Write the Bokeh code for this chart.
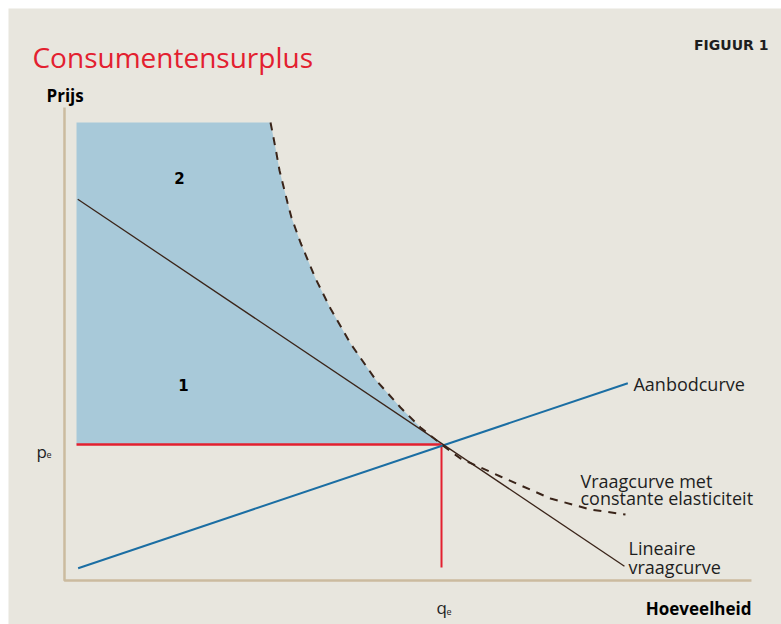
from bokeh.plotting import figure
from bokeh.models import Range1d
from bokeh.core.properties import value
from bokeh.embed import file_html
from bokeh.resources import INLINE

# ---- data (economic units: quantity q, price p) ----
QE = 5.488          # equilibrium quantity
PE = 2.875          # equilibrium price
FILL_LEFT_Q = 0.175 # left edge of the consumer surplus area

# constant-elasticity demand curve
ce_q = [2.999, 3.042, 3.086, 3.130, 3.188, 3.246, 3.304, 3.435, 3.654, 3.872,
        4.163, 4.527, 4.891, 5.182, 5.488, 5.764, 6.346, 7.074, 7.656, 8.166]
ce_p = [9.683, 9.366, 9.027, 8.668, 8.330, 7.992, 7.674, 7.146, 6.385, 5.751,
        5.011, 4.249, 3.658, 3.235, 2.875, 2.580, 2.199, 1.734, 1.501, 1.395]

# linear demand curve
lin_q = [0.193, 8.151]
lin_p = [8.061, 0.302]

# supply curve
sup_q = [0.199, 8.200]
sup_p = [0.260, 4.171]

QE_BOTTOM_P = 0.275

AXIS_MAX_Q = 10.0
AXIS_MAX_P = 10.0

BG = "#e8e6de"
RED = "#e3202f"
BLUE = "#1b6ea3"
FILLC = "#a8c9d9"
DARK = "#3a2419"
AXISC = "#cbbb9f"
TXT = "#1e1e1e"

p = figure(width=781, height=624, output_backend="svg", toolbar_location=None,
           x_range=Range1d(-0.815, 10.437), y_range=Range1d(-0.930, 12.093),
           min_border=0, min_border_left=8, min_border_right=0,
           min_border_top=8, min_border_bottom=0)
p.axis.visible = False
p.grid.visible = False
p.outline_line_color = None
p.background_fill_color = BG
p.border_fill_color = "white"

# consumer surplus area: left edge, top, down the curve to equilibrium, back along pe
n_eq = ce_q.index(QE) + 1
poly_x = [FILL_LEFT_Q] + ce_q[:n_eq] + [FILL_LEFT_Q]
poly_y = [ce_p[0]] + ce_p[:n_eq] + [PE]
p.patch(poly_x, poly_y, fill_color=FILLC, line_color=None)

# axes
p.line([0, 0, AXIS_MAX_Q], [AXIS_MAX_P, 0, 0], line_color=AXISC, line_width=2.5)

# red equilibrium lines
p.line([FILL_LEFT_Q, QE], [PE, PE], line_color=RED, line_width=2.5)
p.line([QE, QE], [PE, QE_BOTTOM_P], line_color=RED, line_width=2)

# supply
p.line(sup_q, sup_p, line_color=BLUE, line_width=2)
# linear demand
p.line(lin_q, lin_p, line_color=DARK, line_width=1.3)
# constant elasticity demand
p.line(ce_q, ce_p, line_color=DARK, line_width=2, line_dash="8 7")

def txt(x, y, s, size, color=TXT, style="normal", align="left", baseline="alphabetic", font="Open Sans"):
    p.text(x=[x], y=[y], text=[s], text_font=value(font), text_font_size=f"{size}px",
           text_color=color, text_font_style=style, text_align=align, text_baseline=baseline)

txt(-0.466, 11.078, "Consumentensurplus", 28, color=RED)
txt(10.247, 11.311, "FIGUUR 1", 14, style="bold", align="right", font="DejaVu Sans")
txt(-0.262, 10.254, "Prijs", 17, style="bold", color="#000000")
txt(10.0, -0.592, "Hoeveelheid", 17, style="bold", align="right", color="#000000")

txt(-0.408, 2.727, "p", 17)
txt(-0.262, 2.664, "e", 9)
txt(5.415, -0.571, "q", 17)
txt(5.560, -0.655, "e", 9)

txt(1.674, 8.499, "2", 15, style="bold", align="center", baseline="middle", font="DejaVu Sans", color="#000000")
txt(1.732, 4.123, "1", 15, style="bold", align="center", baseline="middle", font="DejaVu Sans", color="#000000")

txt(8.282, 4.165, "Aanbodcurve", 18)
txt(7.511, 2.114, "Vraagcurve met", 18)
txt(7.511, 1.734, "constante elasticiteit", 18)
txt(8.210, 0.677, "Lineaire", 18)
txt(8.210, 0.296, "vraagcurve", 18)

open("out.html", "w").write(file_html(p, INLINE))
